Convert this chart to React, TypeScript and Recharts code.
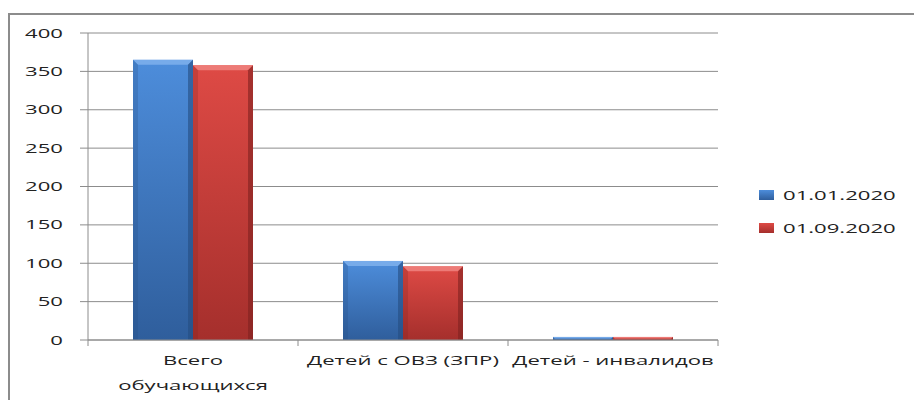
import React from 'react';
import { BarChart, Bar, XAxis, YAxis, CartesianGrid, Legend } from 'recharts';

const categories = ['Всего\nобучающихся', 'Детей с ОВЗ (ЗПР)', 'Детей - инвалидов'];
const jan2020 = [365, 103, 4];
const sep2020 = [358, 96, 4];
const seriesNames = ['01.01.2020', '01.09.2020'];
const yTicks = [0, 50, 100, 150, 200, 250, 300, 350, 400];

const data = categories.map((name, i) => ({
  name,
  jan: jan2020[i],
  sep: sep2020[i]
}));

const FONT = '"Open Sans", sans-serif';
const STRETCH = 1.7;
const GRAY = '#8c8c8c';
const TEXT = '#222';

const palette = [
  { top: '#4d8ddb', bottom: '#2f5e9c', light: '#7fb0ec', dark: '#244c80', legend: '#3d73b8' },
  { top: '#de4a45', bottom: '#a52f2c', light: '#f08480', dark: '#7e2220', legend: '#c43d39' }
];

const makeBarShape = (idx: number) => (props: any) => {
  const { x, y, width, height } = props;
  if (!height || height <= 0) return <g />;
  const c = palette[idx];
  const b = Math.min(5, height / 2);
  return (
    <g>
      <rect x={x} y={y} width={width} height={height} fill={`url(#grad${idx})`} />
      <polygon points={`${x},${y} ${x + width},${y} ${x + width - b},${y + b} ${x + b},${y + b}`} fill={c.light} opacity={0.85} />
      <polygon points={`${x + width},${y} ${x + width},${y + height} ${x + width - b},${y + height} ${x + width - b},${y + b}`} fill={c.dark} opacity={0.6} />
      <polygon points={`${x},${y} ${x + b},${y + b} ${x + b},${y + height} ${x},${y + height}`} fill={c.dark} opacity={0.25} />
    </g>
  );
};

const YTick = (props: any) => {
  const { x, y, payload } = props;
  return (
    <g transform={`translate(${x},${y}) scale(${STRETCH},1)`}>
      <text x={0} y={0} dy="0.35em" textAnchor="end" fontFamily={FONT} fontSize={13} fill={TEXT}>
        {payload.value}
      </text>
    </g>
  );
};

const XTick = (props: any) => {
  const { x, y, payload, width, visibleTicksCount, index } = props;
  const band = width / (visibleTicksCount || categories.length);
  const lines = String(payload.value).split('\n');
  const axisY = y - 8;
  return (
    <g>
      <line x1={x - band / 2} x2={x - band / 2} y1={axisY} y2={axisY + 6} stroke={GRAY} />
      {index === categories.length - 1 && (
        <line x1={x + band / 2} x2={x + band / 2} y1={axisY} y2={axisY + 6} stroke={GRAY} />
      )}
      <g transform={`translate(${x},${y}) scale(${STRETCH},1)`}>
        {lines.map((line, i) => (
          <text key={i} x={0} y={17 + i * 25} textAnchor="middle" fontFamily={FONT} fontSize={13} fill={TEXT}>
            {line}
          </text>
        ))}
      </g>
    </g>
  );
};

const LegendContent = () => (
  <div style={{ fontFamily: FONT, fontSize: 13, color: TEXT }}>
    {seriesNames.map((name, i) => (
      <div key={name} style={{ display: 'flex', alignItems: 'center', height: 33 }}>
        <span
          style={{
            display: 'inline-block',
            width: 15,
            height: 10,
            background: `linear-gradient(${palette[i].top}, ${palette[i].bottom})`,
            marginRight: 9
          }}
        />
        <span style={{ display: 'inline-block', transform: `scaleX(${STRETCH})`, transformOrigin: 'left center', whiteSpace: 'nowrap' }}>
          {name}
        </span>
      </div>
    ))}
  </div>
);

export default function App() {
  return (
    <div style={{ position: 'relative', width: 914, height: 392 }}>
      <div
        style={{
          position: 'absolute',
          left: 0,
          top: 5,
          width: 914,
          height: 392,
          borderTop: `2px solid ${GRAY}`,
          borderLeft: `2px solid ${GRAY}`,
          boxSizing: 'border-box'
        }}
      />
      <div style={{ position: 'absolute', left: 0, top: 0 }}>
        <BarChart
          width={914}
          height={392}
          data={data}
          barCategoryGap={45}
          barGap={0}
          margin={{ top: 25, right: 204, left: 20, bottom: 0 }}
        >
          <defs>
            {palette.map((c, i) => (
              <linearGradient key={i} id={`grad${i}`} x1="0" y1="0" x2="0" y2="1">
                <stop offset="0%" stopColor={c.top} />
                <stop offset="100%" stopColor={c.bottom} />
              </linearGradient>
            ))}
          </defs>
          <CartesianGrid vertical={false} stroke={GRAY} />
          <XAxis
            dataKey="name"
            interval={0}
            height={60}
            axisLine={{ stroke: GRAY }}
            tickLine={false}
            tickSize={6}
            tickMargin={2}
            tick={<XTick />}
          />
          <YAxis
            domain={[0, 400]}
            ticks={yTicks}
            width={60}
            axisLine={{ stroke: GRAY }}
            tickLine={{ stroke: GRAY }}
            tickSize={8}
            tickMargin={17}
            tick={<YTick />}
          />
          <Legend
            layout="vertical"
            align="center"
            verticalAlign="middle"
            content={<LegendContent />}
            wrapperStyle={{ left: 751, top: 170, width: 160 }}
          />
          <Bar dataKey="jan" name={seriesNames[0]} shape={makeBarShape(0)} fill={palette[0].legend} isAnimationActive={false} />
          <Bar dataKey="sep" name={seriesNames[1]} shape={makeBarShape(1)} fill={palette[1].legend} isAnimationActive={false} />
        </BarChart>
      </div>
    </div>
  );
}
